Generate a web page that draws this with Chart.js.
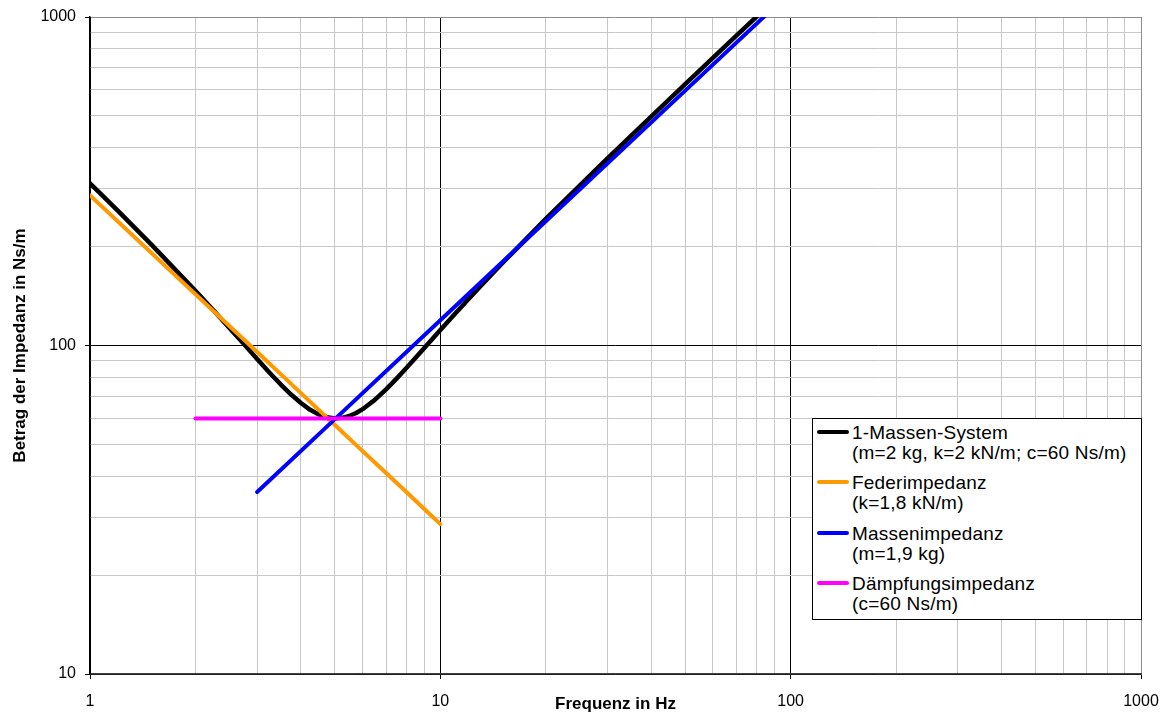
<!DOCTYPE html>
<html>
<head>
<meta charset="utf-8">
<script src="https://cdn.jsdelivr.net/npm/chart.js@4/dist/chart.umd.min.js"></script>
<style>
  html, body { margin: 0; padding: 0; background: #fff; }
  #wrap { position: relative; width: 1166px; height: 713px; }
  #legend {
    position: absolute; left: 812px; top: 418px; width: 330px; height: 202px;
    box-sizing: border-box; border: 1px solid #000; background: #fff;
    font-family: "Liberation Sans", Arial, sans-serif; font-size: 19px; color: #000;
    letter-spacing: 0.2px;
  }
  .swatch { position: absolute; left: 4px; width: 32px; height: 4px; border-radius: 2px; }
  .txt { position: absolute; left: 39px; line-height: 20px; white-space: nowrap; }
</style>
</head>
<body>
<div id="wrap">
  <canvas id="c" width="1166" height="713"></canvas>
  <div id="legend"></div>
</div>
<script>
// Frequency response of a single-mass oscillator and its three impedance components
const seriesNames = ['1-Massen-System', 'Federimpedanz', 'Massenimpedanz', 'Dämpfungsimpedanz'];
const seriesParams = ['(m=2 kg, k=2 kN/m; c=60 Ns/m)', '(k=1,8 kN/m)', '(m=1,9 kg)', '(c=60 Ns/m)'];
const seriesColors = ['#000000', '#ff9900', '#0000ff', '#ff00ff'];

// 1-Massen-System: frequency in Hz and impedance magnitude in Ns/m
const freqSystem = [1, 1.2, 1.5, 2, 2.25, 2.5, 2.75, 3, 3.25, 3.5, 3.75, 4, 4.25, 4.5, 4.75, 5,
                    5.25, 5.5, 5.75, 6, 6.5, 7, 7.5, 8, 8.5, 9, 10, 11, 12, 13, 15, 20, 30, 50, 70, 100];
const zSystem = [311.6, 257.3, 202.5, 146.8, 128.1, 113.1, 101.0, 91.0, 82.8, 76.2, 70.9, 66.8, 63.7, 61.7, 60.45, 60.0,
                 60.24, 61.0, 62.3, 64.0, 68.3, 73.5, 79.3, 85.4, 91.7, 98.2, 111.4, 124.7, 138.0, 151.3, 177.7, 242.9, 371.3, 624.8, 877.1, 1254.9];

// Federimpedanz
const freqSpring = [1, 2, 3, 4, 5, 6, 7, 8, 9, 10];
const zSpring = [286.5, 143.2, 95.5, 71.6, 57.3, 47.7, 40.9, 35.8, 31.8, 28.6];

// Massenimpedanz
const freqMass = [3, 5, 10, 20, 50, 100];
const zMass = [35.8, 59.7, 119.4, 238.8, 596.9, 1193.8];

// Dämpfungsimpedanz
const freqDamp = [2, 3, 4, 5, 6, 7, 8, 9, 10];
const zDamp = [60, 60, 60, 60, 60, 60, 60, 60, 60];

// Axis decades and their labels
const xDecades = [1, 10, 100, 1000];
const xTickLabels = ['1', '10', '100', '1000'];
const yDecades = [10, 100, 1000];
const yTickLabels = ['10', '100', '1000'];
const minorSteps = [1, 2, 3, 4, 5, 6, 7, 8, 9];

function gridValues(decades) {
  const out = [];
  decades.forEach((d, i) => {
    if (i === decades.length - 1) { out.push(d); return; }
    minorSteps.forEach(m => out.push(m * d));
  });
  return out;
}
const toPoints = (xs, ys) => xs.map((x, i) => ({ x: x, y: ys[i] }));

const FONT = "'Liberation Sans', Arial, sans-serif";

function gridColor(decades, ctx) {
  const v = ctx.tick ? ctx.tick.value : null;
  if (v === decades[decades.length - 1]) return '#8c8c8c';
  if (decades.includes(v)) return '#000000';
  return '#c8c8c8';
}
function tickMarkColor(decades, ctx) {
  const v = ctx.tick ? ctx.tick.value : null;
  return decades.includes(v) ? '#000000' : 'rgba(0,0,0,0)';
}

const series = [
  toPoints(freqSystem, zSystem),
  toPoints(freqSpring, zSpring),
  toPoints(freqMass, zMass),
  toPoints(freqDamp, zDamp)
];

// drawing order: system curve underneath the component lines, damping on top
const drawOrder = [3, 2, 1, 0];

new Chart(document.getElementById('c'), {
  type: 'line',
  data: {
    datasets: series.map((pts, i) => ({
      label: seriesNames[i],
      data: pts,
      borderColor: seriesColors[i],
      backgroundColor: seriesColors[i],
      borderWidth: i === 0 ? 4.5 : 4,
      pointRadius: 0,
      fill: false,
      tension: 0,
      borderCapStyle: 'round',
      borderJoinStyle: 'round',
      order: drawOrder[i]
    }))
  },
  options: {
    responsive: false,
    animation: false,
    layout: { padding: { top: 17, right: 25, left: 0, bottom: 0 } },
    plugins: { legend: { display: false }, tooltip: { enabled: false } },
    scales: {
      x: {
        type: 'logarithmic',
        min: 1, max: 1000,
        afterBuildTicks: s => { s.ticks = gridValues(xDecades).map(v => ({ value: v })); },
        afterFit: s => { s.height = 39; s.paddingLeft = 0; s.paddingRight = 0; },
        grid: {
          color: ctx => gridColor(xDecades, ctx),
          lineWidth: 1,
          tickLength: 5,
          tickColor: ctx => tickMarkColor(xDecades, ctx)
        },
        border: { color: '#404040', width: 1.5 },
        ticks: {
          autoSkip: false, maxRotation: 0, minRotation: 0, padding: 13,
          color: '#000', font: { family: FONT, size: 16 },
          callback: v => { const k = xDecades.indexOf(v); return k >= 0 ? xTickLabels[k] : ''; }
        },
        title: {
          display: true, text: 'Frequenz in Hz', color: '#000',
          font: { family: FONT, size: 17, weight: 'bold' },
          padding: { top: 0, bottom: -2 }
        }
      },
      y: {
        type: 'logarithmic',
        min: 10, max: 1000,
        afterBuildTicks: s => { s.ticks = gridValues(yDecades).map(v => ({ value: v })); },
        afterFit: s => { s.width = 90; s.paddingTop = 0; s.paddingBottom = 0; },
        grid: {
          color: ctx => gridColor(yDecades, ctx),
          lineWidth: 1,
          tickLength: 5,
          tickColor: ctx => tickMarkColor(yDecades, ctx)
        },
        border: { color: '#000', width: 1.5 },
        ticks: {
          autoSkip: false, padding: 9,
          color: '#000', font: { family: FONT, size: 16 },
          callback: v => { const k = yDecades.indexOf(v); return k >= 0 ? yTickLabels[k] : ''; }
        },
        title: {
          display: true, text: 'Betrag der Impedanz in Ns/m', color: '#000',
          font: { family: FONT, size: 17, weight: 'bold' },
          padding: { top: 10, bottom: 0 }
        }
      }
    }
  }
});

// legend box inside the plot area
const legend = document.getElementById('legend');
seriesNames.forEach((name, i) => {
  const top = 4 + i * 50.4;
  const sw = document.createElement('div');
  sw.className = 'swatch';
  sw.style.top = (top + 6.7) + 'px';
  sw.style.background = seriesColors[i];
  legend.appendChild(sw);
  const t = document.createElement('div');
  t.className = 'txt';
  t.style.top = top + 'px';
  t.innerHTML = name + '<br>' + seriesParams[i];
  legend.appendChild(t);
});
</script>
</body>
</html>
